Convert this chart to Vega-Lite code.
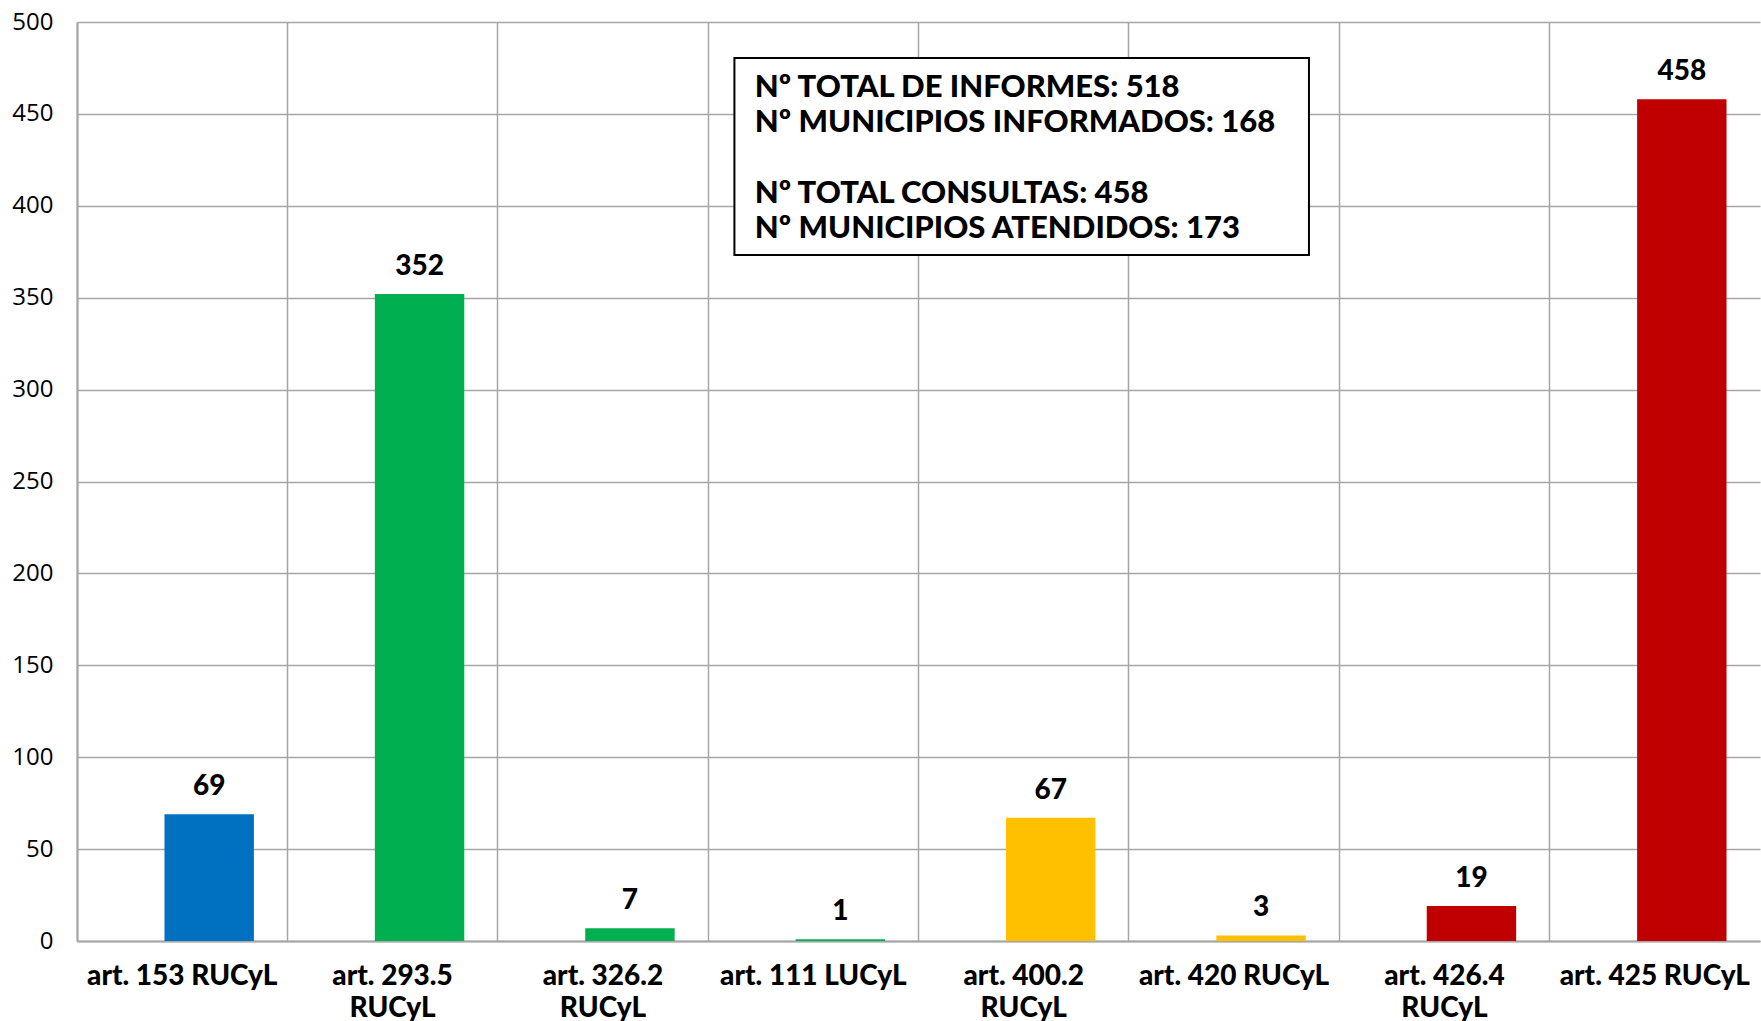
{
  "$schema": "https://vega.github.io/schema/vega-lite/v6.json",
  "width": 1683,
  "height": 919,
  "autosize": {"type": "none"},
  "padding": {"left": 77, "top": 22, "right": 1, "bottom": 80},
  "background": "white",
  "config": {"view": {"stroke": null}},
  "datasets": {
    "bars": [
      {"label": "art. 153 RUCyL", "value": 69, "grupo": "g1"},
      {"label": "art. 293.5 RUCyL", "value": 352, "grupo": "g2"},
      {"label": "art. 326.2 RUCyL", "value": 7, "grupo": "g2"},
      {"label": "art. 111 LUCyL", "value": 1, "grupo": "g2"},
      {"label": "art. 400.2 RUCyL", "value": 67, "grupo": "g3"},
      {"label": "art. 420 RUCyL", "value": 3, "grupo": "g3"},
      {"label": "art. 426.4 RUCyL", "value": 19, "grupo": "g4"},
      {"label": "art. 425 RUCyL", "value": 458, "grupo": "g4"}
    ],
    "box": [{"x1": 3.125, "x2": 5.856, "y1": 373.2, "y2": 480.4}],
    "notes": [
      {"ax": 3.222, "ay": 463.9, "txt": "Nº TOTAL DE INFORMES: 518"},
      {"ax": 3.222, "ay": 444.9, "txt": "Nº MUNICIPIOS INFORMADOS: 168"},
      {"ax": 3.222, "ay": 406.2, "txt": "Nº TOTAL CONSULTAS: 458"},
      {"ax": 3.222, "ay": 387.2, "txt": "Nº MUNICIPIOS ATENDIDOS: 173"}
    ]
  },
  "layer": [
    {
      "data": {"name": "bars"},
      "layer": [
        {
          "mark": {"type": "bar", "width": {"band": 0.425}, "xOffset": 27},
          "encoding": {
            "x": {
              "field": "label", "type": "nominal", "sort": null,
              "scale": {"paddingInner": 0, "paddingOuter": 0},
              "axis": {
                "title": null, "labelAngle": 0, "ticks": false,
                "grid": true, "bandPosition": 0, "gridColor": "#A6A6A6", "gridWidth": 1.5,
                "domainColor": "#A6A6A6", "domainWidth": 2,
                "labelFont": "Lato", "labelFontWeight": 900, "labelFontSize": 28,
                "labelColor": "#000000", "labelPadding": 21, "labelLineHeight": 32,
                "labelLimit": 400, "labelOverlap": false,
                "labelExpr": "length(datum.label) > 14 ? [slice(datum.label, 0, lastindexof(datum.label, ' ')), slice(datum.label, lastindexof(datum.label, ' ') + 1)] : datum.label"
              }
            },
            "y": {
              "field": "value", "type": "quantitative",
              "scale": {"domain": [0, 500], "nice": false},
              "axis": {
                "title": null, "values": [0, 50, 100, 150, 200, 250, 300, 350, 400, 450, 500],
                "ticks": false, "grid": true, "gridColor": "#A6A6A6", "gridWidth": 1.5,
                "domainColor": "#A6A6A6", "domainWidth": 2,
                "labelFont": "Open Sans", "labelFontSize": 24, "labelColor": "#000000",
                "labelPadding": 24
              }
            },
            "color": {
              "field": "grupo", "type": "nominal", "legend": null,
              "scale": {"domain": ["g1", "g2", "g3", "g4"], "range": ["#0070C0", "#00B050", "#FFC000", "#C00000"]}
            }
          }
        },
        {
          "mark": {"type": "text", "xOffset": 27, "dy": -27, "baseline": "middle", "font": "Lato", "fontWeight": 900, "fontSize": 28, "color": "#000000"},
          "encoding": {
            "x": {"field": "label", "type": "nominal", "sort": null},
            "y": {"field": "value", "type": "quantitative"},
            "text": {"field": "value", "type": "quantitative"}
          }
        }
      ]
    },
    {
      "data": {"name": "box"},
      "mark": {"type": "rect", "fill": "white", "stroke": "#000000", "strokeWidth": 2},
      "encoding": {
        "x": {"field": "x1", "type": "quantitative", "scale": {"domain": [0, 8], "nice": false}, "axis": null},
        "x2": {"field": "x2"},
        "y": {"field": "y1", "type": "quantitative", "scale": {"domain": [0, 500], "nice": false}},
        "y2": {"field": "y2"}
      }
    },
    {
      "data": {"name": "notes"},
      "mark": {"type": "text", "align": "left", "baseline": "middle", "font": "Lato", "fontWeight": 900, "fontSize": 31, "color": "#000000"},
      "encoding": {
        "x": {"field": "ax", "type": "quantitative", "scale": {"domain": [0, 8], "nice": false}, "axis": null},
        "y": {"field": "ay", "type": "quantitative", "scale": {"domain": [0, 500], "nice": false}},
        "text": {"field": "txt", "type": "nominal"}
      }
    }
  ],
  "resolve": {"scale": {"x": "independent"}, "axis": {"x": "independent"}}
}
